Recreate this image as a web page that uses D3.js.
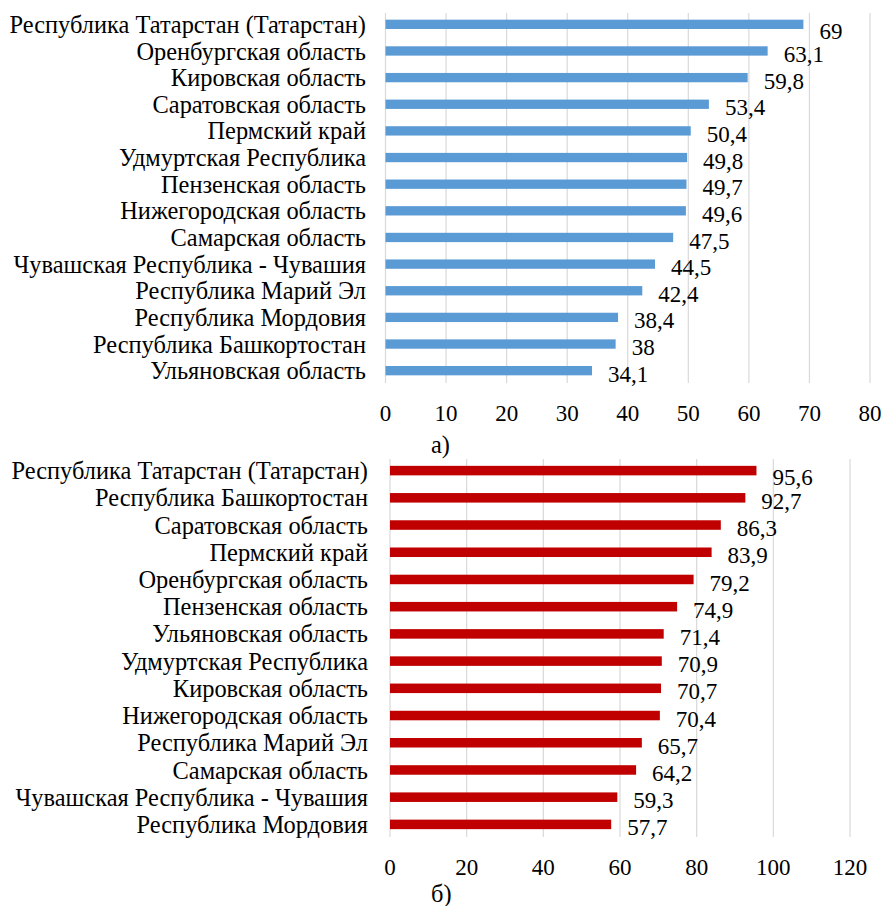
<!DOCTYPE html>
<html>
<head>
<meta charset="utf-8">
<script src="https://cdn.jsdelivr.net/npm/d3@7"></script>
<style>
  body { margin: 0; background: #fff; }
  text { font-family: "Liberation Serif", "Times New Roman", serif; fill: #000; }
</style>
</head>
<body>
<svg id="chart" width="885" height="906"></svg>
<script>
// data for panel a)
const regionsA = [
  "Республика Татарстан (Татарстан)", "Оренбургская область", "Кировская область",
  "Саратовская область", "Пермский край", "Удмуртская Республика", "Пензенская область",
  "Нижегородская область", "Самарская область", "Чувашская Республика - Чувашия",
  "Республика Марий Эл", "Республика Мордовия", "Республика Башкортостан", "Ульяновская область"
];
const valuesA = [69, 63.1, 59.8, 53.4, 50.4, 49.8, 49.7, 49.6, 47.5, 44.5, 42.4, 38.4, 38, 34.1];
const ticksA = [0, 10, 20, 30, 40, 50, 60, 70, 80];

// data for panel б)
const regionsB = [
  "Республика Татарстан (Татарстан)", "Республика Башкортостан", "Саратовская область",
  "Пермский край", "Оренбургская область", "Пензенская область", "Ульяновская область",
  "Удмуртская Республика", "Кировская область", "Нижегородская область",
  "Республика Марий Эл", "Самарская область", "Чувашская Республика - Чувашия", "Республика Мордовия"
];
const valuesB = [95.6, 92.7, 86.3, 83.9, 79.2, 74.9, 71.4, 70.9, 70.7, 70.4, 65.7, 64.2, 59.3, 57.7];
const ticksB = [0, 20, 40, 60, 80, 100, 120];

const labelSize = 24.4, // px, category labels
    numSize = 23; // px, ticks and values
let svg = d3.select("#chart");

drawPanel({
  regions: regionsA, values: valuesA, ticks: ticksA,
  x0: 385.5, x1: 870, top: 11, bottom: 384,
  labelRight: 366, tickY: 420.5, color: "#5B9BD5",
  caption: "а)", captionY: 452.5
});

drawPanel({
  regions: regionsB, values: valuesB, ticks: ticksB,
  x0: 390, x1: 850, top: 457, bottom: 838,
  labelRight: 368, tickY: 875, color: "#C00000",
  caption: "б)", captionY: 901.5
});

function fmt(v) {
  // comma as decimal separator
  return String(v).replace(".", ",");
}

function drawPanel(p) {
  let g = svg.append("g");

  let x = d3.scaleLinear()
    .domain([p.ticks[0], p.ticks[p.ticks.length - 1]])
    .range([p.x0, p.x1]);

  let y = d3.scaleBand()
    .domain(p.regions)
    .range([p.top, p.bottom])
    .padding(0);

  let barH = y.bandwidth() * 0.35;
  let mid = d => y(d) + y.bandwidth() / 2;

  // gridlines
  g.append("g")
    .selectAll("line")
    .data(p.ticks)
    .join("line")
    .attr("x1", d => x(d)).attr("x2", d => x(d))
    .attr("y1", p.top + 2).attr("y2", p.bottom - 1)
    .attr("stroke", "#d9d9d9")
    .attr("stroke-width", 1.2);

  // tick labels
  g.append("g")
    .selectAll("text")
    .data(p.ticks)
    .join("text")
    .attr("x", d => x(d))
    .attr("y", p.tickY)
    .attr("text-anchor", "middle")
    .attr("font-size", numSize)
    .text(d => d);

  // bars
  g.append("g")
    .selectAll("rect")
    .data(p.values)
    .join("rect")
    .attr("x", x(0))
    .attr("y", (d, i) => mid(p.regions[i]) - barH / 2)
    .attr("width", d => x(d) - x(0))
    .attr("height", barH)
    .attr("fill", p.color);

  // value labels (kept inside the plot area at the top)
  g.append("g")
    .selectAll("text")
    .data(p.values)
    .join("text")
    .attr("x", d => x(d) + 16)
    .attr("y", (d, i) => Math.max(mid(p.regions[i]) + 3, p.top + 20))
    .attr("dy", "0.35em")
    .attr("font-size", numSize)
    .text(d => fmt(d));

  // category labels
  g.append("g")
    .selectAll("text")
    .data(p.regions)
    .join("text")
    .attr("x", p.labelRight)
    .attr("y", d => mid(d))
    .attr("dy", "0.35em")
    .attr("text-anchor", "end")
    .attr("font-size", labelSize)
    .text(d => d);

  // panel caption
  g.append("text")
    .attr("x", 431)
    .attr("y", p.captionY)
    .attr("font-size", labelSize)
    .text(p.caption);
}
</script>
</body>
</html>
